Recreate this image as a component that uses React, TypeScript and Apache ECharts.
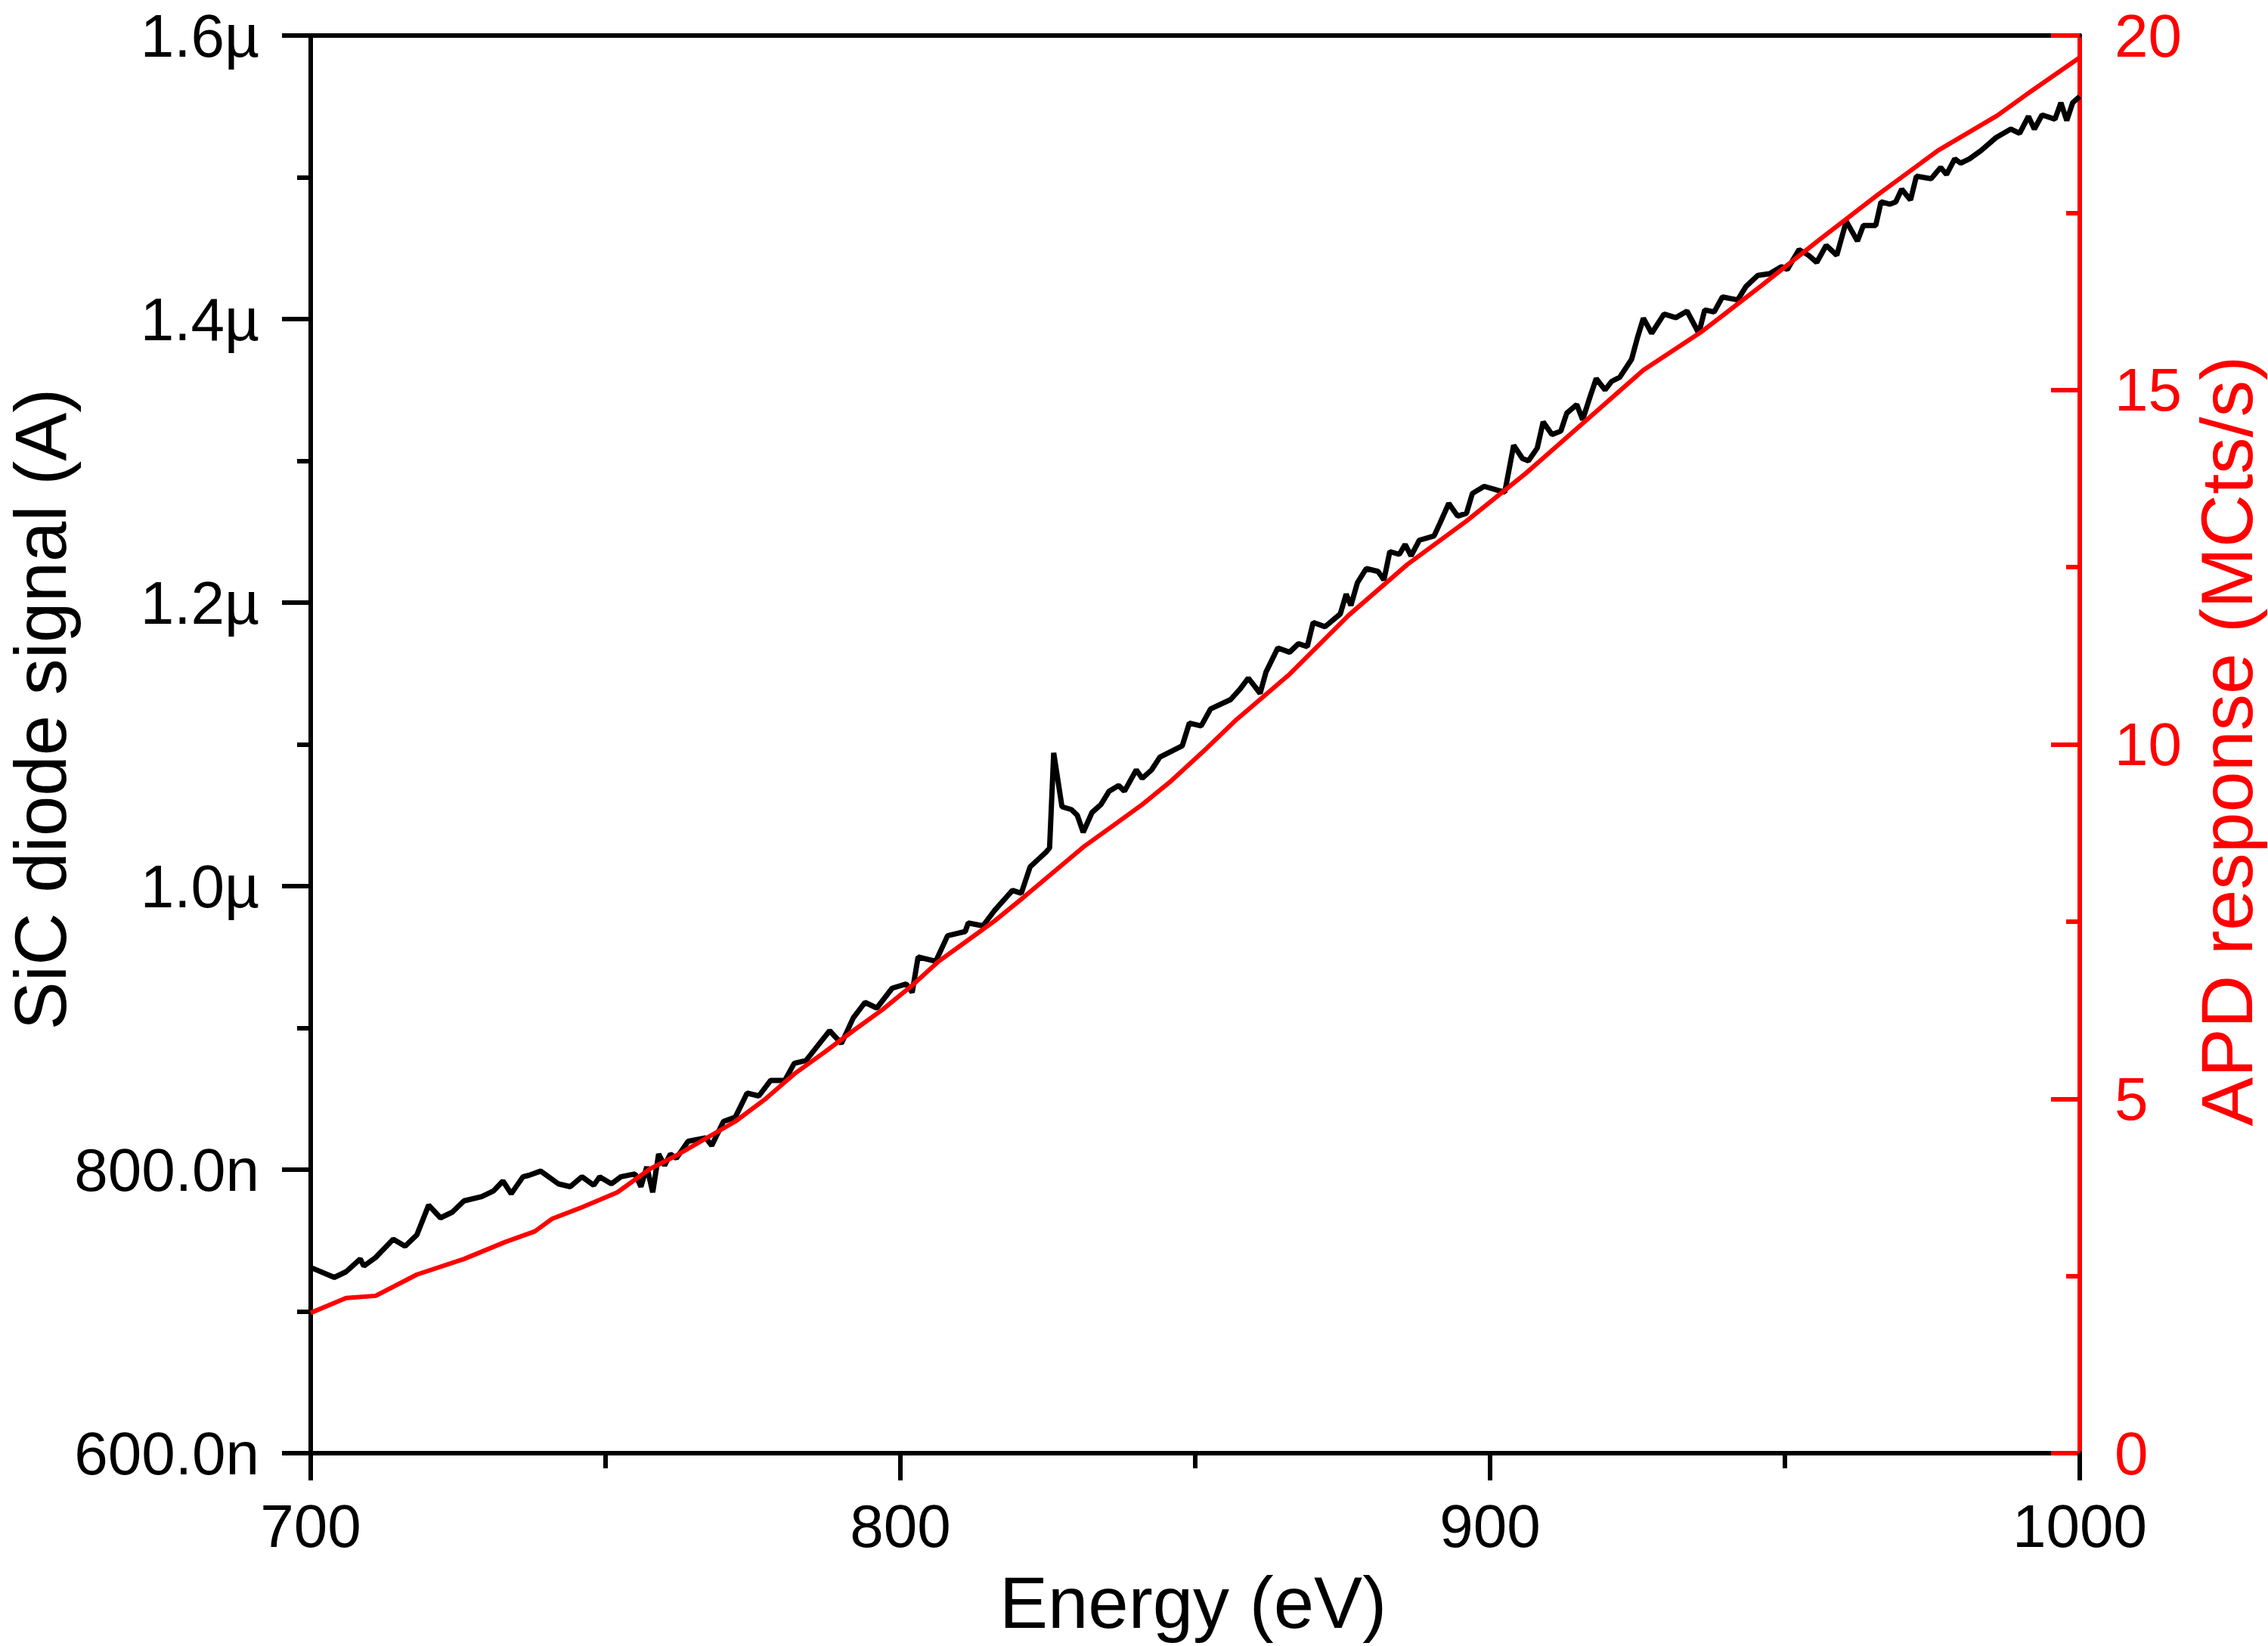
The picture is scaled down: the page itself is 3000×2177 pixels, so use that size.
import React, { useEffect, useRef } from "react";
import * as echarts from "echarts";

// ---- Data ----
// SiC diode signal, energy in eV, signal in nA
const sicEnergy = [
  700, 704, 706, 708.4, 709, 711, 714, 716, 718, 720, 722, 724, 726, 729, 731, 732.6, 734, 736, 737, 739,
  742, 744, 746, 748, 749, 751, 752.6, 755, 756, 757, 758, 759, 760, 761, 762, 764, 767, 768, 770, 772,
  774, 776, 778, 780.4, 782, 784, 786, 788, 790, 792, 794, 796, 798.6, 801, 802, 803, 806, 808, 811, 811.5,
  814, 816, 819, 820.5, 822, 824.7, 825.3, 826, 827.4, 829, 830, 831, 832.5, 834, 835.4, 837, 838, 840, 841, 842.6,
  844, 847.8, 849, 851, 852.6, 856, 857.6, 859, 861, 862, 864, 866, 867.5, 869, 870, 872, 874.6, 875.6, 876.4, 877.5,
  879, 881, 882, 883, 884.6, 885.6, 886.6, 888, 890.5, 891.5, 893, 894.5, 896, 897, 899, 901.5, 902.5, 904, 905.5, 906.5,
  908, 909, 910.5, 912, 913, 914.7, 915.7, 917, 918, 919.5, 920.6, 922, 924, 925, 926, 927.4, 929.5, 931.5, 933.4, 935.4,
  936.4, 938, 939.4, 942, 943.4, 945.4, 947.4, 949.4, 950.4, 952.4, 954, 955.4, 957, 958.8, 960.4, 962.3, 963.3, 965.4, 966.3, 967.8,
  968.8, 969.8, 971.3, 972.3, 974.8, 976.4, 977.4, 978.8, 979.8, 981.3, 983.3, 985.8, 988.3, 989.8, 991.3, 992.3, 993.6, 995.8, 996.8, 997.8,
  998.8, 1000,
];
const sicSignal = [
  731, 724, 728, 737, 732, 738, 751, 746, 754, 775, 766, 770, 778, 781, 785, 792, 783, 795, 796, 799,
  790, 788, 795, 789, 795, 790, 795, 797, 788, 802, 784, 811, 803, 811, 808, 820, 822.5, 817, 834, 837,
  854, 852, 863, 863, 875, 877, 887.5, 898, 889, 907, 918, 914, 928, 931, 925, 950, 947, 965, 968, 974,
  972, 983, 997, 995, 1013.6, 1024, 1027, 1094, 1056, 1054, 1050, 1038, 1052, 1057.5, 1067, 1071, 1067, 1082, 1076, 1082,
  1091, 1099, 1115, 1113, 1125, 1131.6, 1139, 1146.7, 1136, 1151, 1168, 1165, 1171, 1169, 1186, 1183, 1192, 1206, 1198, 1214,
  1224, 1222, 1216, 1236, 1234, 1241, 1233, 1244, 1247, 1256, 1270, 1261, 1263, 1277, 1282, 1279, 1278, 1311, 1301.6, 1300,
  1309, 1327.5, 1318.5, 1321, 1333.6, 1339.7, 1329, 1345.8, 1358, 1350, 1356, 1359, 1371.6, 1387, 1400.6, 1390, 1403.5, 1401, 1405.6, 1390,
  1406.5, 1405, 1415.6, 1413.5, 1423, 1430.8, 1432, 1437, 1435, 1449, 1445, 1440, 1452, 1445, 1469, 1455, 1466, 1466, 1482.7, 1481,
  1482.7, 1491.6, 1484, 1500.8, 1499, 1507, 1502, 1513, 1510, 1513, 1519, 1528, 1534, 1531, 1543, 1534, 1544, 1541, 1552.6, 1540,
  1552.6, 1557,
];

// APD response, energy in eV, response in MCts/s
const apdEnergy = [
  700, 706, 711, 718, 726, 733, 738, 741, 746, 752, 757.5, 762, 767, 772, 777, 782, 787, 792, 797, 802,
  806.5, 811.5, 816, 821, 826, 831, 836, 841, 846, 852, 857, 866, 876, 886, 896, 906, 916, 926, 936, 946,
  956, 966, 976, 986, 991, 1000,
];
const apdResponse = [
  1.98, 2.19, 2.22, 2.52, 2.74, 2.98, 3.13, 3.31, 3.47, 3.68, 4.01, 4.2, 4.44, 4.68, 4.99, 5.35, 5.65, 5.96, 6.26, 6.6,
  6.94, 7.24, 7.51, 7.85, 8.2, 8.55, 8.85, 9.15, 9.49, 9.95, 10.35, 10.99, 11.82, 12.54, 13.15, 13.82, 14.55, 15.28, 15.83, 16.47,
  17.13, 17.77, 18.38, 18.87, 19.17, 19.69,
];

// Axis ranges
const xRange = [700, 1000];
const xStep = 100;
const leftRange = [600, 1600]; // nA
const leftStep = 200;
const rightRange = [0, 20];
const rightStep = 5;

const xTitle = "Energy (eV)";
const leftTitle = "SiC diode signal (A)";
const rightTitle = "APD response (MCts/s)";

const FONT = "'Liberation Sans', Arial, Helvetica, sans-serif";
const RED = "#ff0000";
const BLACK = "#000000";

function fmtLeft(v: number): string {
  if (v >= 1000) return (v / 1000).toFixed(1) + "\u00b5";
  return v.toFixed(1) + "n";
}

export default function App() {
  const ref = useRef<HTMLDivElement>(null);

  useEffect(() => {
    document.body.style.margin = "0";
    if (!ref.current) return;
    const chart = echarts.init(ref.current, null, { renderer: "svg" });

    const gridLeft = 411;
    const gridRight = 249;
    const gridTop = 47;
    const gridBottom = 255;

    const axisLineW = 6;

    chart.setOption({
      animation: false,
      backgroundColor: "#ffffff",
      grid: { left: gridLeft, right: gridRight, top: gridTop, bottom: gridBottom, containLabel: false },
      xAxis: [
        {
          type: "value",
          position: "bottom",
          min: xRange[0],
          max: xRange[1],
          interval: xStep,
          axisLine: { show: true, onZero: false, lineStyle: { color: BLACK, width: axisLineW } },
          axisTick: { show: true, inside: false, length: 36, lineStyle: { color: BLACK, width: axisLineW } },
          minorTick: { show: true, splitNumber: 2, length: 20, lineStyle: { color: BLACK, width: axisLineW } },
          splitLine: { show: false },
          minorSplitLine: { show: false },
          axisLabel: {
            show: true,
            margin: 96,
            verticalAlign: "middle",
            color: BLACK,
            fontSize: 80,
            lineHeight: 64,
            fontFamily: FONT,
            formatter: (v: number) => String(v),
          },
        },
        {
          type: "value",
          position: "top",
          min: xRange[0],
          max: xRange[1],
          axisLine: { show: true, onZero: false, lineStyle: { color: BLACK, width: axisLineW } },
          axisTick: { show: false },
          axisLabel: { show: false },
          splitLine: { show: false },
        },
      ],
      yAxis: [
        {
          type: "value",
          position: "left",
          min: leftRange[0],
          max: leftRange[1],
          interval: leftStep,
          axisLine: { show: true, onZero: false, lineStyle: { color: BLACK, width: axisLineW } },
          axisTick: { show: true, inside: false, length: 38, lineStyle: { color: BLACK, width: axisLineW } },
          minorTick: { show: true, splitNumber: 2, length: 18, lineStyle: { color: BLACK, width: axisLineW } },
          splitLine: { show: false },
          minorSplitLine: { show: false },
          axisLabel: {
            show: true,
            margin: 68,
            color: BLACK,
            fontSize: 80,
            lineHeight: 62,
            fontFamily: FONT,
            formatter: (v: number) => fmtLeft(v),
          },
        },
        {
          type: "value",
          position: "right",
          min: rightRange[0],
          max: rightRange[1],
          interval: rightStep,
          axisLine: { show: true, onZero: false, lineStyle: { color: RED, width: axisLineW } },
          axisTick: { show: true, inside: true, length: 38, lineStyle: { color: RED, width: axisLineW } },
          minorTick: { show: true, splitNumber: 2, length: 18, lineStyle: { color: RED, width: axisLineW } },
          splitLine: { show: false },
          minorSplitLine: { show: false },
          axisLabel: {
            show: true,
            inside: false,
            margin: 46,
            color: RED,
            fontSize: 80,
            lineHeight: 62,
            fontFamily: FONT,
            formatter: (v: number) => String(v),
          },
        },
      ],
      series: [
        {
          name: "SiC diode signal",
          type: "line",
          xAxisIndex: 0,
          yAxisIndex: 0,
          data: sicEnergy.map((e, i) => [e, sicSignal[i]]),
          showSymbol: false,
          symbol: "none",
          smooth: false,
          lineStyle: { color: BLACK, width: 7 },
          z: 2,
        },
        {
          name: "APD response",
          type: "line",
          xAxisIndex: 0,
          yAxisIndex: 1,
          data: apdEnergy.map((e, i) => [e, apdResponse[i]]),
          showSymbol: false,
          symbol: "none",
          smooth: false,
          lineStyle: { color: RED, width: 6 },
          z: 3,
        },
      ],
      graphic: [
        {
          type: "text",
          x: 1578,
          y: 2119,
          style: {
            text: xTitle,
            fill: BLACK,
            fontSize: 96,
            fontFamily: FONT,
            textAlign: "center",
            textVerticalAlign: "middle",
          },
        },
        {
          type: "text",
          x: 53,
          y: 938,
          rotation: Math.PI / 2,
          style: {
            text: leftTitle,
            fill: BLACK,
            fontSize: 96,
            lineHeight: 80,
            fontFamily: FONT,
            textAlign: "center",
            textVerticalAlign: "middle",
          },
        },
        {
          type: "text",
          x: 2945,
          y: 980,
          rotation: Math.PI / 2,
          style: {
            text: rightTitle,
            fill: RED,
            fontSize: 97,
            lineHeight: 80,
            fontFamily: FONT,
            textAlign: "center",
            textVerticalAlign: "middle",
          },
        },
      ],
    });

    return () => {
      chart.dispose();
    };
  }, []);

  return <div ref={ref} style={{ width: 3000, height: 2177 }} />;
}
